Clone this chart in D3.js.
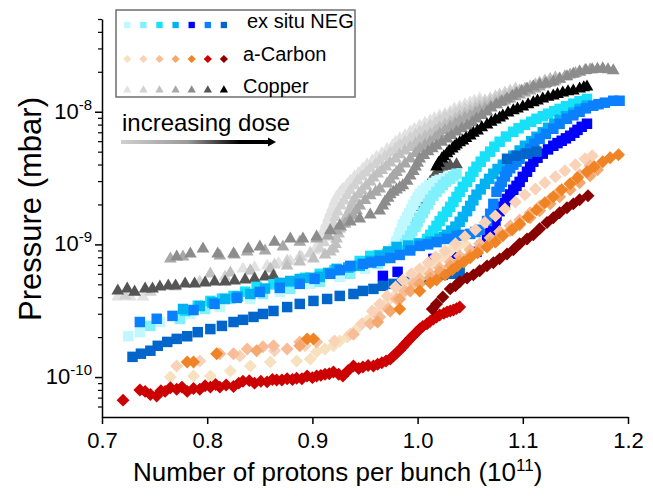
<!DOCTYPE html>
<html>
<head>
<meta charset="utf-8">
<script src="https://cdn.jsdelivr.net/npm/d3@7"></script>
<style>
body { margin: 0; background: #fff; }
text { font-family: Arial, "Liberation Sans", sans-serif; fill: #000; }
</style>
</head>
<body>
<svg id="chart" width="653" height="496"></svg>
<script>
// axis ticks
var xTicks = [0.7, 0.8, 0.9, 1.0, 1.1, 1.2];
var yMajor = [1e-10, 1e-9, 1e-8];
var yMajorExp = ["-10", "-9", "-8"];

// legend
var groupNames = ["ex situ NEG", "a-Carbon", "Copper"];
var negColors = ["#c0f8ff", "#80f0fc", "#18e0f8", "#00b2f2", "#0000ff", "#0a80ff", "#0066cc"];
var carbonColors = ["#f7e1bf", "#f9d2b8", "#f7bc98", "#f4a86e", "#f08424", "#cc0000", "#880000"];
var copperColors = ["#e2e2e2", "#d2d2d2", "#c0c0c0", "#a8a8a8", "#8c8c8c", "#555555", "#000000"];

// Copper (triangles), increasing dose
var cu1 = [[0.715,4.02e-10],[0.727,4.02e-10],[0.739,4.02e-10],[0.834,6.54e-10],[0.845,6.7e-10],[0.857,6.89e-10],[0.868,7.2e-10],[0.879,7.51e-10],[0.890,8.0e-10],[0.898,8.48e-10],[0.902,9.0e-10],[0.905,9.74e-10],[0.907,1.06e-9],[0.909,1.16e-9],[0.911,1.3e-9],[0.913,1.43e-9],[0.915,1.58e-9],[0.917,1.73e-9],[0.919,1.9e-9],[0.921,2.09e-9],[0.923,2.27e-9],[0.926,2.45e-9],[0.929,2.62e-9],[0.933,2.81e-9],[0.936,3.0e-9],[0.940,3.24e-9],[0.944,3.45e-9],[0.948,3.71e-9],[0.952,4.0e-9],[0.957,4.27e-9],[0.961,4.55e-9],[0.966,4.83e-9],[0.971,5.2e-9],[0.976,5.54e-9],[0.979,5.9e-9],[0.983,6.25e-9],[0.988,6.6e-9],[0.993,7.06e-9],[0.997,7.4e-9],[1.002,7.84e-9],[1.007,8.2e-9],[1.012,8.55e-9],[1.016,8.9e-9],[1.021,9.33e-9],[1.026,9.6e-9],[1.031,1.0e-8],[1.035,1.05e-8],[1.040,1.09e-8],[1.045,1.13e-8],[1.050,1.17e-8],[1.054,1.21e-8],[1.059,1.25e-8]];
var cu2 = [[0.722,4.09e-10],[0.746,4.38e-10],[0.769,4.78e-10],[0.793,5.22e-10],[0.817,5.69e-10],[0.841,6.32e-10],[0.864,7.01e-10],[0.876,7.5e-10],[0.888,8.05e-10],[0.898,8.6e-10],[0.907,9.25e-10],[0.911,1.03e-9],[0.915,1.14e-9],[0.918,1.28e-9],[0.920,1.43e-9],[0.922,1.6e-9],[0.924,1.76e-9],[0.927,1.95e-9],[0.930,2.13e-9],[0.933,2.33e-9],[0.936,2.54e-9],[0.940,2.78e-9],[0.943,3.02e-9],[0.947,3.25e-9],[0.951,3.47e-9],[0.955,3.72e-9],[0.960,3.99e-9],[0.964,4.28e-9],[0.969,4.58e-9],[0.974,4.92e-9],[0.979,5.26e-9],[0.983,5.6e-9],[0.988,5.94e-9],[0.993,6.3e-9],[0.998,6.70e-9],[1.002,7.05e-9],[1.007,7.44e-9],[1.012,7.85e-9],[1.017,8.26e-9],[1.021,8.7e-9],[1.026,9.17e-9],[1.031,9.5e-9],[1.036,9.83e-9],[1.040,1.02e-8],[1.045,1.05e-8],[1.050,1.09e-8],[1.055,1.13e-8],[1.059,1.17e-8],[1.064,1.21e-8],[1.069,1.25e-8],[1.074,1.30e-8],[1.078,1.34e-8],[1.083,1.39e-8],[1.088,1.44e-8],[1.093,1.49e-8]];
var cu3 = [[0.803,6.0e-10],[0.822,6.1e-10],[0.841,6.32e-10],[0.860,6.54e-10],[0.876,6.89e-10],[0.888,7.38e-10],[0.901,7.78e-10],[0.912,8.33e-10],[0.917,8.8e-10],[0.920,9.25e-10],[0.922,1.0e-9],[0.923,1.10e-9],[0.925,1.2e-9],[0.926,1.31e-9],[0.929,1.43e-9],[0.931,1.56e-9],[0.934,1.7e-9],[0.936,1.85e-9],[0.938,2.02e-9],[0.940,2.20e-9],[0.944,2.37e-9],[0.947,2.54e-9],[0.951,2.75e-9],[0.955,2.96e-9],[0.958,3.18e-9],[0.962,3.41e-9],[0.966,3.62e-9],[0.970,3.85e-9],[0.974,4.12e-9],[0.979,4.42e-9],[0.983,4.75e-9],[0.988,5.08e-9],[0.993,5.4e-9],[0.998,5.74e-9],[1.002,6.1e-9],[1.007,6.47e-9],[1.012,6.82e-9],[1.017,7.19e-9],[1.021,7.58e-9],[1.026,7.98e-9],[1.031,8.4e-9],[1.036,8.85e-9],[1.040,9.25e-9],[1.045,9.66e-9],[1.050,1.01e-8],[1.055,1.05e-8],[1.059,1.09e-8],[1.064,1.13e-8],[1.069,1.17e-8],[1.074,1.21e-8],[1.078,1.25e-8],[1.083,1.30e-8],[1.088,1.34e-8],[1.093,1.39e-8],[1.097,1.44e-8],[1.102,1.49e-8],[1.107,1.54e-8],[1.112,1.60e-8],[1.116,1.65e-8],[1.121,1.71e-8],[1.126,1.76e-8],[1.131,1.81e-8]];
var cu4 = [[0.765,7.78e-10],[0.777,8.05e-10],[0.812,8.19e-10],[0.826,8.33e-10],[0.838,8.78e-10],[0.855,8.93e-10],[0.872,9.57e-10],[0.888,1.04e-9],[0.904,1.10e-9],[0.915,1.16e-9],[0.923,1.27e-9],[0.927,1.35e-9],[0.931,1.43e-9],[0.935,1.53e-9],[0.939,1.64e-9],[0.942,1.8e-9],[0.945,1.95e-9],[0.950,2.15e-9],[0.955,2.33e-9],[0.960,2.48e-9],[0.964,2.62e-9],[0.971,2.86e-9],[0.974,3.07e-9],[0.977,3.29e-9],[0.980,3.5e-9],[0.983,3.71e-9],[0.988,4.05e-9],[0.993,4.42e-9],[0.998,4.85e-9],[1.002,5.26e-9],[1.007,5.6e-9],[1.012,5.94e-9],[1.017,6.38e-9],[1.021,6.82e-9],[1.026,7.25e-9],[1.031,7.70e-9],[1.036,8.1e-9],[1.040,8.55e-9],[1.045,8.95e-9],[1.050,9.33e-9],[1.055,9.8e-9],[1.059,1.02e-8],[1.064,1.05e-8],[1.069,1.09e-8],[1.074,1.13e-8],[1.078,1.17e-8],[1.083,1.21e-8],[1.088,1.25e-8],[1.093,1.30e-8],[1.097,1.34e-8],[1.102,1.39e-8],[1.107,1.44e-8],[1.112,1.49e-8],[1.116,1.54e-8],[1.121,1.6e-8],[1.126,1.65e-8],[1.131,1.71e-8],[1.135,1.77e-8],[1.140,1.84e-8],[1.145,1.90e-8],[1.150,1.95e-8],[1.154,2.0e-8],[1.159,2.04e-8],[1.164,2.08e-8]];
var cu5 = [[0.771,8.05e-10],[0.784,8.48e-10],[0.796,9.25e-10],[0.810,8.48e-10],[0.825,8.48e-10],[0.839,9.25e-10],[0.850,9.57e-10],[0.864,1.04e-9],[0.879,1.10e-9],[0.891,1.10e-9],[0.904,1.14e-9],[0.917,1.27e-9],[0.926,1.38e-9],[0.936,1.48e-9],[0.945,1.56e-9],[0.955,1.67e-9],[0.964,1.79e-9],[0.967,1.95e-9],[0.969,2.09e-9],[0.972,2.23e-9],[0.974,2.37e-9],[0.977,2.48e-9],[0.980,2.58e-9],[0.983,2.68e-9],[0.986,2.77e-9],[0.990,3.0e-9],[0.993,3.29e-9],[0.996,3.55e-9],[0.998,3.85e-9],[1.000,4.1e-9],[1.002,4.42e-9],[1.006,4.7e-9],[1.010,5.0e-9],[1.014,5.27e-9],[1.018,5.54e-9],[1.023,5.9e-9],[1.028,6.25e-9],[1.032,6.65e-9],[1.037,7.06e-9],[1.042,7.45e-9],[1.047,7.84e-9],[1.052,8.3e-9],[1.056,8.85e-9],[1.061,9.4e-9],[1.066,1.0e-8],[1.070,1.07e-8],[1.075,1.13e-8],[1.080,1.19e-8],[1.085,1.25e-8],[1.090,1.31e-8],[1.094,1.37e-8],[1.099,1.43e-8],[1.104,1.49e-8],[1.110,1.55e-8],[1.116,1.60e-8],[1.122,1.64e-8],[1.129,1.68e-8],[1.135,1.76e-8],[1.142,1.84e-8],[1.148,1.92e-8],[1.154,2.0e-8],[1.160,2.05e-8],[1.166,2.08e-8],[1.171,2.1e-8],[1.176,2.11e-8],[1.181,2.08e-8],[1.186,2.04e-8]];
var cu6 = [[0.715,4.46e-10],[0.724,4.62e-10],[0.731,4.38e-10],[0.741,4.62e-10],[0.748,4.62e-10],[0.755,4.78e-10],[0.763,4.87e-10],[0.770,4.87e-10],[0.779,5.04e-10],[0.788,5.04e-10],[0.798,5.13e-10],[0.807,5.22e-10],[0.817,5.22e-10],[0.826,5.31e-10],[0.836,5.40e-10],[0.845,5.49e-10],[0.855,5.69e-10],[0.863,5.79e-10],[0.985,1.10e-9],[0.987,1.22e-9],[0.988,1.36e-9],[0.991,1.55e-9],[0.993,1.76e-9],[0.996,1.9e-9],[0.998,2.02e-9],[1.000,2.17e-9],[1.002,2.33e-9],[1.005,2.48e-9],[1.007,2.62e-9],[1.010,2.8e-9],[1.012,2.96e-9],[1.015,3.18e-9],[1.018,3.41e-9],[1.021,3.63e-9],[1.023,3.85e-9],[1.027,3.9e-9],[1.031,3.92e-9],[1.037,3.99e-9]];
var cu7 = [[1.018,3.85e-9],[1.020,4.1e-9],[1.023,4.42e-9],[1.025,4.6e-9],[1.028,4.83e-9],[1.030,5.05e-9],[1.033,5.26e-9],[1.035,5.45e-9],[1.037,5.64e-9],[1.040,5.85e-9],[1.043,6.04e-9],[1.046,6.3e-9],[1.050,6.59e-9],[1.053,6.9e-9],[1.057,7.19e-9],[1.061,7.6e-9],[1.066,7.98e-9],[1.070,8.35e-9],[1.074,8.70e-9],[1.078,9.0e-9],[1.081,9.33e-9],[1.086,9.8e-9],[1.091,1.02e-8],[1.095,1.05e-8],[1.100,1.09e-8],[1.105,1.13e-8],[1.110,1.17e-8],[1.114,1.21e-8],[1.119,1.25e-8],[1.124,1.29e-8],[1.129,1.32e-8],[1.133,1.35e-8],[1.138,1.39e-8],[1.143,1.42e-8],[1.148,1.44e-8],[1.154,1.49e-8],[1.158,1.52e-8],[1.161,1.54e-8]];

// ex situ NEG (squares)
var neg1 = [[0.725,2.03e-10],[0.736,2.18e-10],[0.755,2.60e-10],[0.784,2.99e-10],[0.812,3.37e-10],[0.841,3.88e-10],[0.869,4.38e-10],[0.898,5.04e-10],[0.926,5.69e-10],[0.950,6.54e-10],[0.969,7.78e-10],[0.973,8.5e-10],[0.977,9.25e-10],[0.979,1.0e-9],[0.980,1.06e-9],[0.982,1.14e-9],[0.983,1.22e-9],[0.985,1.31e-9],[0.986,1.41e-9],[0.988,1.5e-9],[0.990,1.61e-9],[0.992,1.72e-9],[0.994,1.85e-9],[0.996,1.99e-9],[0.998,2.13e-9],[1.000,2.27e-9],[1.002,2.41e-9],[1.005,2.54e-9],[1.008,2.67e-9],[1.011,2.8e-9],[1.015,2.91e-9],[1.018,3.0e-9],[1.021,3.07e-9],[1.025,3.15e-9],[1.029,3.24e-9]];
var neg2 = [[0.746,2.43e-10],[0.774,2.74e-10],[0.798,3.26e-10],[0.822,3.88e-10],[0.853,4.23e-10],[0.879,4.62e-10],[0.907,5.22e-10],[0.936,6.0e-10],[0.962,7.13e-10],[0.979,8.48e-10],[0.984,9.2e-10],[0.988,1.01e-9],[0.990,1.08e-9],[0.993,1.16e-9],[0.995,1.26e-9],[0.998,1.36e-9],[1.000,1.47e-9],[1.002,1.59e-9],[1.005,1.72e-9],[1.007,1.85e-9],[1.010,2.0e-9],[1.012,2.17e-9],[1.015,2.33e-9],[1.018,2.49e-9],[1.021,2.65e-9],[1.024,2.81e-9],[1.027,2.97e-9],[1.031,3.12e-9],[1.034,3.27e-9],[1.037,3.41e-9]];
var neg3 = [[0.779,3.15e-10],[0.791,3.45e-10],[0.803,3.75e-10],[0.814,3.9e-10],[0.825,4.09e-10],[0.836,4.4e-10],[0.847,4.78e-10],[0.863,5.0e-10],[0.879,5.22e-10],[0.893,5.6e-10],[0.907,6.0e-10],[0.921,6.4e-10],[0.936,6.77e-10],[0.945,7.5e-10],[0.955,8.19e-10],[0.963,8.3e-10],[0.971,8.48e-10],[0.982,9.0e-10],[0.993,9.57e-10],[1.001,1.02e-9],[1.009,1.10e-9],[1.012,1.18e-9],[1.015,1.27e-9],[1.018,1.38e-9],[1.021,1.50e-9],[1.024,1.62e-9],[1.028,1.76e-9],[1.031,1.92e-9],[1.034,2.09e-9],[1.037,2.28e-9],[1.040,2.49e-9],[1.043,2.72e-9],[1.047,2.96e-9],[1.050,3.23e-9],[1.053,3.53e-9],[1.056,3.85e-9],[1.060,4.20e-9],[1.064,4.6e-9],[1.069,5.0e-9],[1.073,5.45e-9],[1.078,5.94e-9],[1.084,6.5e-9],[1.091,7.06e-9],[1.096,7.5e-9],[1.102,7.98e-9],[1.108,8.4e-9],[1.113,8.85e-9],[1.119,9.25e-9],[1.124,9.66e-9],[1.130,1.01e-8],[1.135,1.05e-8],[1.141,1.1e-8],[1.148,1.15e-8],[1.154,1.2e-8],[1.161,1.25e-8]];
var neg4 = [[0.777,3.26e-10],[0.793,3.43e-10],[0.805,3.65e-10],[0.817,3.88e-10],[0.829,4.05e-10],[0.841,4.23e-10],[0.855,4.65e-10],[0.869,5.13e-10],[0.879,5.3e-10],[0.888,5.49e-10],[0.898,5.6e-10],[0.907,5.69e-10],[0.915,6.1e-10],[0.923,6.54e-10],[0.934,6.7e-10],[0.945,6.89e-10],[0.955,7.5e-10],[0.964,8.19e-10],[0.972,8.85e-10],[0.980,9.57e-10],[0.991,9.8e-10],[1.002,1.01e-9],[1.012,1.05e-9],[1.021,1.10e-9],[1.025,1.14e-9],[1.028,1.18e-9],[1.032,1.27e-9],[1.036,1.36e-9],[1.040,1.48e-9],[1.043,1.61e-9],[1.047,1.78e-9],[1.050,1.95e-9],[1.053,2.15e-9],[1.056,2.37e-9],[1.060,2.6e-9],[1.064,2.86e-9],[1.068,3.12e-9],[1.072,3.41e-9],[1.076,3.7e-9],[1.081,3.99e-9],[1.086,4.3e-9],[1.091,4.66e-9],[1.097,5.1e-9],[1.102,5.54e-9],[1.108,6.0e-9],[1.113,6.47e-9],[1.119,7.0e-9],[1.124,7.57e-9],[1.130,8.1e-9],[1.135,8.70e-9],[1.141,9.25e-9],[1.148,9.83e-9],[1.154,1.05e-8],[1.161,1.11e-8]];
var neg5 = [[0.967,5.79e-10],[0.981,6.21e-10],[1.015,7.78e-10],[1.036,8.48e-10],[1.056,8.78e-10],[1.061,9.8e-10],[1.066,1.10e-9],[1.069,1.22e-9],[1.072,1.36e-9],[1.074,1.5e-9],[1.075,1.64e-9],[1.078,1.78e-9],[1.080,1.92e-9],[1.083,2.05e-9],[1.085,2.20e-9],[1.088,2.38e-9],[1.091,2.58e-9],[1.094,2.76e-9],[1.097,2.96e-9],[1.100,3.23e-9],[1.104,3.53e-9],[1.107,3.85e-9],[1.110,4.20e-9],[1.114,4.5e-9],[1.119,4.83e-9],[1.124,5.2e-9],[1.129,5.54e-9],[1.133,5.8e-9],[1.137,6.04e-9],[1.141,6.3e-9],[1.145,6.59e-9],[1.149,6.95e-9],[1.152,7.3e-9],[1.156,7.7e-9],[1.161,8.12e-9]];
var neg6 = [[0.736,2.60e-10],[0.752,2.75e-10],[0.767,2.89e-10],[0.787,3.2e-10],[0.807,3.56e-10],[0.828,3.95e-10],[0.850,4.38e-10],[0.869,4.7e-10],[0.888,5.04e-10],[0.902,5.5e-10],[0.917,6.0e-10],[0.926,6.4e-10],[0.936,6.89e-10],[0.948,7.13e-10],[0.956,7.3e-10],[0.964,7.51e-10],[0.974,7.9e-10],[0.983,8.33e-10],[0.993,9.0e-10],[1.002,9.74e-10],[1.010,1.0e-9],[1.018,1.04e-9],[1.028,1.1e-9],[1.037,1.16e-9],[1.043,1.18e-9],[1.050,1.20e-9],[1.055,1.24e-9],[1.059,1.29e-9],[1.066,1.50e-9],[1.069,1.70e-9],[1.072,2.02e-9],[1.075,2.49e-9],[1.078,2.72e-9],[1.080,2.96e-9],[1.083,3.25e-9],[1.085,3.53e-9],[1.088,3.75e-9],[1.091,3.99e-9],[1.094,4.2e-9],[1.097,4.42e-9],[1.102,4.85e-9],[1.107,5.26e-9],[1.111,5.75e-9],[1.116,6.25e-9],[1.122,6.8e-9],[1.129,7.44e-9],[1.135,8.1e-9],[1.142,8.85e-9],[1.148,9.4e-9],[1.154,1.0e-8],[1.160,1.06e-8],[1.167,1.11e-8],[1.172,1.14e-8],[1.178,1.17e-8],[1.186,1.21e-8],[1.192,1.21e-8]];
var neg7 = [[0.729,1.42e-10],[0.737,1.50e-10],[0.746,1.58e-10],[0.753,1.72e-10],[0.762,1.84e-10],[0.771,1.94e-10],[0.781,2.03e-10],[0.791,2.18e-10],[0.803,2.30e-10],[0.814,2.43e-10],[0.825,2.60e-10],[0.834,2.70e-10],[0.844,2.84e-10],[0.853,2.99e-10],[0.863,3.15e-10],[0.876,3.37e-10],[0.888,3.56e-10],[0.901,3.75e-10],[0.914,3.88e-10],[0.926,4.09e-10],[0.939,4.23e-10],[0.948,4.46e-10],[0.958,4.62e-10],[0.967,4.87e-10],[0.977,5.04e-10],[0.986,5.22e-10],[0.996,5.31e-10],[1.005,5.49e-10],[1.015,5.69e-10],[1.024,5.89e-10],[1.034,6.0e-10],[1.040,6.21e-10],[1.085,4.42e-9],[1.094,4.66e-9],[1.104,4.83e-9],[1.113,5.0e-9]];

// a-Carbon (diamonds)
var ac1 = [[0.765,1.0e-10],[0.787,1.02e-10],[0.803,1.02e-10],[0.822,1.11e-10],[0.841,1.21e-10],[0.860,1.30e-10],[0.885,1.32e-10],[0.898,1.37e-10],[0.904,1.55e-10],[0.912,1.63e-10],[0.920,1.72e-10],[0.926,1.87e-10],[0.933,2.0e-10],[0.939,2.18e-10],[0.945,2.43e-10],[0.952,2.65e-10],[0.958,2.89e-10],[0.964,3.26e-10],[0.971,3.68e-10],[0.977,4.02e-10],[0.983,4.38e-10],[0.990,4.78e-10],[0.996,5.22e-10],[1.002,5.69e-10],[1.007,6.32e-10],[1.012,6.89e-10],[1.018,7.51e-10],[1.024,8.19e-10],[1.031,8.93e-10],[1.038,9.57e-10],[1.045,1.01e-9]];
var ac2 = [[0.771,1.21e-10],[0.793,1.32e-10],[0.831,1.44e-10],[0.864,1.58e-10],[0.893,1.72e-10],[0.921,1.87e-10],[0.936,2.10e-10],[0.947,2.52e-10],[0.957,3.15e-10],[0.964,3.56e-10],[0.971,4.09e-10],[0.979,4.78e-10],[0.986,5.40e-10],[0.994,6.0e-10],[1.002,6.54e-10],[1.010,7.26e-10],[1.017,8.05e-10],[1.026,8.93e-10],[1.036,1.01e-9],[1.045,1.14e-9],[1.055,1.29e-9],[1.064,1.46e-9],[1.074,1.64e-9],[1.083,1.85e-9],[1.093,2.09e-9],[1.102,2.37e-9],[1.112,2.62e-9],[1.121,2.91e-9],[1.131,3.24e-9],[1.140,3.59e-9],[1.150,3.99e-9],[1.159,4.42e-9],[1.166,4.66e-9]];
var ac3 = [[0.812,1.50e-10],[0.825,1.50e-10],[0.838,1.63e-10],[0.853,1.69e-10],[0.863,1.72e-10],[0.876,1.63e-10],[0.888,1.84e-10],[0.904,1.84e-10],[0.939,2.10e-10],[0.955,2.52e-10],[0.964,2.84e-10],[0.972,3.26e-10],[0.980,3.88e-10],[0.988,4.46e-10],[0.996,5.04e-10],[1.002,5.49e-10],[1.012,6.0e-10],[1.021,6.65e-10],[1.031,7.38e-10],[1.040,8.19e-10],[1.050,9.09e-10],[1.059,1.01e-9],[1.069,1.12e-9],[1.078,1.25e-9],[1.088,1.38e-9],[1.097,1.53e-9],[1.107,1.73e-9],[1.116,1.95e-9],[1.126,2.20e-9],[1.135,2.54e-9],[1.145,2.86e-9],[1.154,3.35e-9],[1.164,3.92e-9]];
var ac4 = [[0.847,1.58e-10],[0.888,1.72e-10],[0.962,2.60e-10],[0.974,3.15e-10],[0.983,3.88e-10],[0.993,4.46e-10],[1.002,5.04e-10],[1.012,5.59e-10],[1.021,6.21e-10],[1.031,6.89e-10],[1.040,7.51e-10],[1.050,8.33e-10],[1.059,9.25e-10],[1.069,1.03e-9],[1.078,1.14e-9],[1.088,1.27e-9],[1.097,1.40e-9],[1.107,1.59e-9],[1.116,1.79e-9],[1.126,2.02e-9],[1.135,2.29e-9],[1.145,2.58e-9],[1.154,2.91e-9],[1.164,3.29e-9],[1.171,3.65e-9]];
var ac5 = [[0.781,1.30e-10],[0.787,1.30e-10],[0.809,1.50e-10],[0.895,1.94e-10],[0.901,1.94e-10],[0.983,3.26e-10],[1.002,4.46e-10],[1.012,5.13e-10],[1.018,5.40e-10],[1.026,5.89e-10],[1.033,6.43e-10],[1.038,6.89e-10],[1.044,7.38e-10],[1.050,7.92e-10],[1.057,8.63e-10],[1.066,9.57e-10],[1.074,1.04e-9],[1.081,1.16e-9],[1.090,1.29e-9],[1.097,1.43e-9],[1.105,1.61e-9],[1.113,1.82e-9],[1.121,2.06e-9],[1.129,2.29e-9],[1.137,2.58e-9],[1.145,2.86e-9],[1.152,3.18e-9],[1.161,3.53e-9],[1.168,3.85e-9],[1.176,4.20e-9],[1.183,4.5e-9],[1.191,4.74e-9]];
var ac6 = [[0.720,6.7e-11],[0.736,8.0e-11],[0.741,7.8e-11],[0.746,7.4e-11],[0.752,7.2e-11],[0.756,7.9e-11],[0.760,7.8e-11],[0.765,8.3e-11],[0.771,8.1e-11],[0.776,8.4e-11],[0.781,7.8e-11],[0.787,8.2e-11],[0.793,8.1e-11],[0.798,8.6e-11],[0.803,8.4e-11],[0.808,8.8e-11],[0.812,8.4e-11],[0.818,8.7e-11],[0.825,8.5e-11],[0.830,9.0e-11],[0.834,9.3e-11],[0.840,9.4e-11],[0.845,9.0e-11],[0.851,9.3e-11],[0.857,9.2e-11],[0.862,9.6e-11],[0.866,9.5e-11],[0.871,9.5e-11],[0.876,9.7e-11],[0.881,9.6e-11],[0.885,9.8e-11],[0.890,9.7e-11],[0.895,1.02e-10],[0.900,9.9e-11],[0.904,1.02e-10],[0.908,1.03e-10],[0.912,1.05e-10],[0.916,1.06e-10],[0.920,1.09e-10],[0.925,1.05e-10],[0.929,1.02e-10],[0.934,1.12e-10],[0.939,1.21e-10],[0.944,1.16e-10],[0.948,1.19e-10],[0.953,1.22e-10],[0.958,1.21e-10],[0.962,1.25e-10],[0.966,1.28e-10],[0.970,1.32e-10],[0.974,1.37e-10],[0.977,1.44e-10],[0.980,1.52e-10],[0.983,1.6e-10],[0.986,1.69e-10],[0.988,1.77e-10],[0.990,1.84e-10],[0.993,1.95e-10],[0.996,2.06e-10],[0.999,2.18e-10],[1.002,2.30e-10],[1.005,2.41e-10],[1.009,2.52e-10],[1.012,2.63e-10],[1.015,2.74e-10],[1.018,2.84e-10],[1.021,2.94e-10],[1.025,3.02e-10],[1.028,3.10e-10],[1.031,3.15e-10],[1.034,3.20e-10],[1.037,3.28e-10],[1.040,3.37e-10]];
var ac7 = [[1.014,3.26e-10],[1.018,3.56e-10],[1.024,4.02e-10],[1.031,4.62e-10],[1.036,4.87e-10],[1.040,5.22e-10],[1.047,5.59e-10],[1.053,5.89e-10],[1.059,6.32e-10],[1.066,6.89e-10],[1.072,7.26e-10],[1.078,7.78e-10],[1.085,8.48e-10],[1.091,9.1e-10],[1.097,1.01e-9],[1.104,1.10e-9],[1.110,1.18e-9],[1.116,1.31e-9],[1.123,1.46e-9],[1.129,1.59e-9],[1.135,1.73e-9],[1.142,1.89e-9],[1.148,2.02e-9],[1.154,2.17e-9],[1.162,2.33e-9]];

var copperSeries = [cu1, cu2, cu3, cu4, cu5, cu6, cu7];
var negSeries = [neg1, neg2, neg3, neg4, neg5, neg6, neg7];
var carbonSeries = [ac1, ac2, ac3, ac4, ac5, ac6, ac7];

var svg = d3.select("#chart");
var margin = {left: 102, right: 25, top: 19, bottom: 79};
var W = 653, H = 496;

var x = d3.scaleLinear().domain([0.7, 1.2]).range([margin.left, W - margin.right]);
var y = d3.scaleLog().domain([5e-11, 5e-8]).range([H - margin.bottom, margin.top]);

// marker shapes
var sq = d3.symbol().type(d3.symbolSquare).size(110);
var tri = d3.symbol().type(d3.symbolTriangle).size(70);
var dia = d3.symbol().type(d3.symbolSquare).size(84);

function drawGroup(series, colors, path, rotate, cls) {
  series.forEach(function(s, i) {
    svg.append("g").attr("class", cls)
      .selectAll("path")
      .data(s)
      .enter().append("path")
      .attr("d", path)
      .attr("fill", colors[i])
      .attr("transform", function(d) {
        return "translate(" + x(d[0]) + "," + y(d[1]) + ")" + (rotate ? " rotate(45)" : "");
      });
  });
}

drawGroup(copperSeries, copperColors, tri, false, "copper");
drawGroup(negSeries, negColors, sq, false, "neg");
drawGroup(carbonSeries, carbonColors, dia, true, "carbon");

// x axis
var xAxis = d3.axisBottom(x).tickValues(xTicks).tickFormat(d3.format(".1f")).tickSize(7).tickSizeOuter(0);
var gx = svg.append("g").attr("transform", "translate(0," + (H - margin.bottom) + ")").call(xAxis);
gx.select(".domain").attr("stroke", "#000").attr("stroke-width", 1.5);
gx.selectAll(".tick line").attr("stroke", "#000").attr("stroke-width", 1.5);
gx.selectAll(".tick text").attr("font-size", 22).attr("font-family", "Arial, 'Liberation Sans', sans-serif").attr("dy", "0.95em").attr("fill", "#000");

// y axis: minor ticks
var minor = [];
[1e-11, 1e-10, 1e-9, 1e-8].forEach(function(dec) {
  for (var k = 2; k <= 9; k++) {
    var v = dec * k;
    if (v >= 5e-11 && v <= 5e-8) minor.push(v);
  }
});
var yMinorAxis = d3.axisLeft(y).tickValues(minor).tickFormat("").tickSize(4).tickSizeOuter(0);
var gyMinor = svg.append("g").attr("transform", "translate(" + margin.left + ",0)").call(yMinorAxis);
gyMinor.select(".domain").attr("stroke", "#000").attr("stroke-width", 1.5);
gyMinor.selectAll(".tick line").attr("stroke", "#000").attr("stroke-width", 1.2);

var yAxis = d3.axisLeft(y).tickValues(yMajor).tickFormat("").tickSize(7).tickSizeOuter(0);
var gy = svg.append("g").attr("transform", "translate(" + margin.left + ",0)").call(yAxis);
gy.select(".domain").remove();
gy.selectAll(".tick line").attr("stroke", "#000").attr("stroke-width", 1.5);

// y labels 10^n
yMajor.forEach(function(v, i) {
  var t = svg.append("text")
    .attr("x", margin.left - 10)
    .attr("y", y(v) + 7)
    .attr("text-anchor", "end")
    .attr("font-size", 22);
  t.append("tspan").text("10");
  t.append("tspan").attr("font-size", 15).attr("dy", -9).text(yMajorExp[i]);
});

// axis titles
var xt = svg.append("text")
  .attr("x", 133)
  .attr("y", 481)
  .attr("font-size", 26);
xt.append("tspan").text("Number of protons per bunch (10");
xt.append("tspan").attr("font-size", 17).attr("dy", -10).text("11");
xt.append("tspan").attr("dy", 10).text(")");

svg.append("text")
  .attr("transform", "translate(41," + 209 + ") rotate(-90)")
  .attr("text-anchor", "middle")
  .attr("font-size", 31)
  .text("Pressure (mbar)");

// legend
svg.append("rect")
  .attr("x", 116).attr("y", 10).attr("width", 239).attr("height", 87)
  .attr("fill", "#fff").attr("stroke", "#6e6e6e").attr("stroke-width", 1.5);

var legRows = [
  {name: groupNames[0], colors: negColors, path: d3.symbol().type(d3.symbolSquare).size(40), rot: false, sy: 25, ty: 28, tx: 247},
  {name: groupNames[1], colors: carbonColors, path: d3.symbol().type(d3.symbolSquare).size(34), rot: true, sy: 59, ty: 61, tx: 243},
  {name: groupNames[2], colors: copperColors, path: d3.symbol().type(d3.symbolTriangle).size(30), rot: false, sy: 90, ty: 93, tx: 243}
];
legRows.forEach(function(r) {
  svg.append("g").selectAll("path")
    .data(r.colors)
    .enter().append("path")
    .attr("d", r.path)
    .attr("fill", function(c) { return c; })
    .attr("transform", function(c, i) {
      return "translate(" + (127.3 + i * 16.1) + "," + r.sy + ")" + (r.rot ? " rotate(45)" : "");
    });
  svg.append("text").attr("x", r.tx).attr("y", r.ty).attr("font-size", 20).text(r.name);
});

// increasing dose arrow
var defs = svg.append("defs");
var grad = defs.append("linearGradient").attr("id", "doseGrad").attr("x1", "0%").attr("x2", "100%");
grad.append("stop").attr("offset", "0%").attr("stop-color", "#cfcfcf");
grad.append("stop").attr("offset", "45%").attr("stop-color", "#9a9a9a");
grad.append("stop").attr("offset", "80%").attr("stop-color", "#000");
grad.append("stop").attr("offset", "100%").attr("stop-color", "#000");

svg.append("text").attr("x", 122).attr("y", 131).attr("font-size", 24).text("increasing dose");
svg.append("rect").attr("x", 121).attr("y", 140).attr("width", 148).attr("height", 4).attr("fill", "url(#doseGrad)");
svg.append("path").attr("d", "M268,137.5 L276,142 L268,146.5 Z").attr("fill", "#000");
</script>
</body>
</html>
